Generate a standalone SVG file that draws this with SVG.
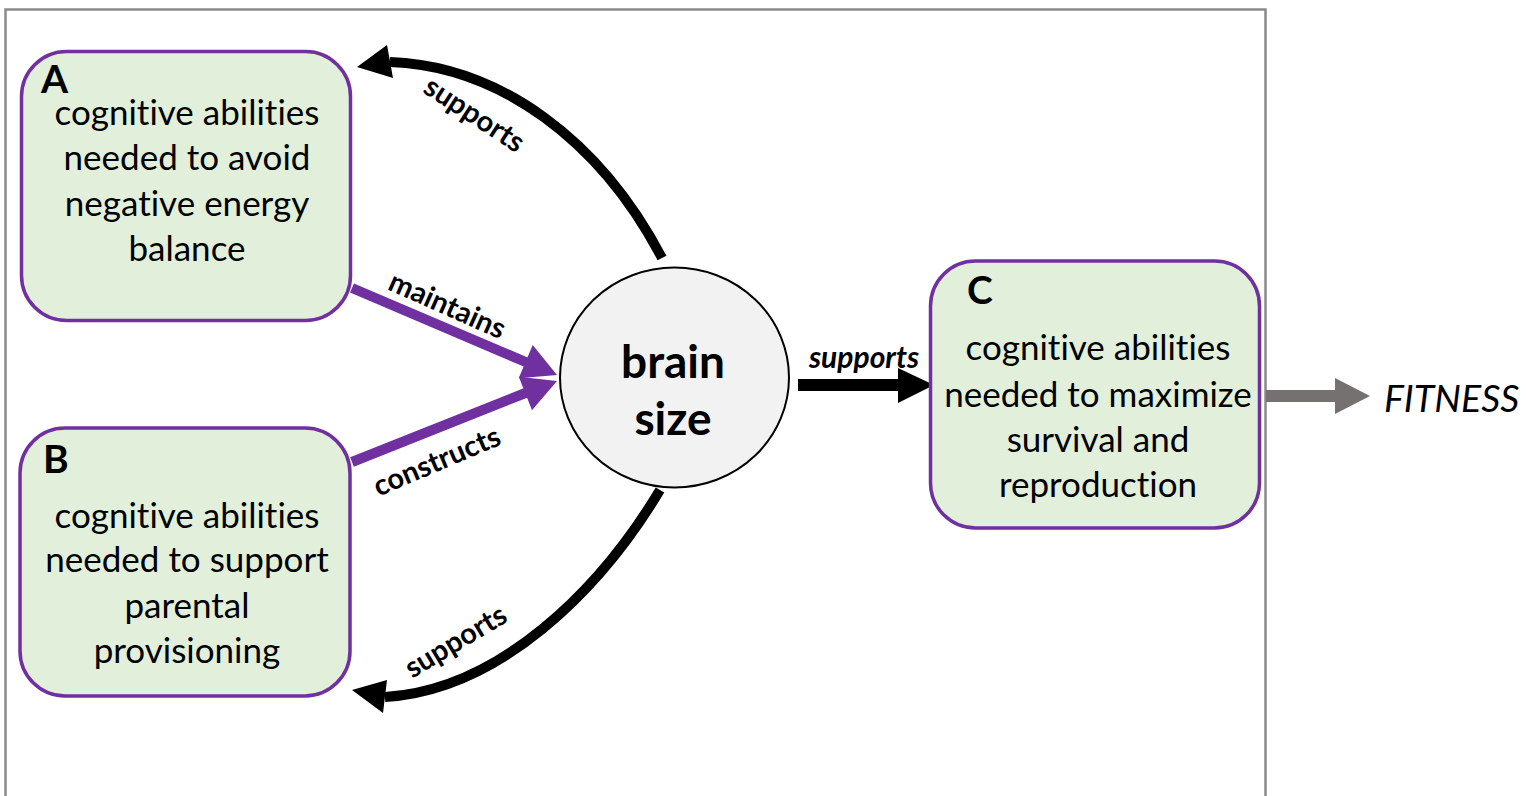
<svg xmlns="http://www.w3.org/2000/svg" width="1526" height="796" viewBox="0 0 1526 796">
<style>
text{font-family:Lato,"Open Sans",sans-serif;font-variant-ligatures:none;fill:#000}
.frame{fill:none;stroke:#8a8a8a;stroke-width:2.5}
.box{fill:#E2EFDA;stroke:#7030A0;stroke-width:3.5}
.body{font-size:35px;text-anchor:middle}
.letter{font-size:39px;font-weight:bold}
.brain{font-size:46px;font-weight:bold;text-anchor:middle}
.lbl{font-size:29px;font-weight:bold;text-anchor:middle}
.lbli{font-size:30px;font-weight:bold;font-style:italic;text-anchor:middle}
.fit{font-size:37.5px;font-style:italic}
.blk{fill:none;stroke:#000;stroke-width:10}
.blkh{fill:#000}
.pur{fill:none;stroke:#7030A0;stroke-width:10}
.purh{fill:#7030A0}
.gry{fill:none;stroke:#767171;stroke-width:12}
.gryh{fill:#767171}
</style>
<rect width="1526" height="796" fill="#fff"/>
<rect class="frame" x="5.5" y="9.5" width="1260" height="800"/>

<g id="connectors">
  <path class="blk" d="M 662 258 C 600 140, 500 66, 390 62"/>
  <polygon class="blkh" points="357,67 387,45 393,78"/>
  <path class="blk" d="M 660 490 C 600 590, 500 690, 385 697"/>
  <polygon class="blkh" points="352,690 387,680 383,713"/>
  <line class="pur" x1="352" y1="288" x2="528" y2="363"/>
  <polygon class="purh" points="557,375 532.7,345.1 518.7,378.3"/>
  <line class="pur" x1="352" y1="462" x2="528" y2="392"/>
  <polygon class="purh" points="557,381 518.8,376.8 532,410.2"/>
  <line x1="798" y1="385" x2="900" y2="385" stroke="#000" stroke-width="12"/>
  <polygon class="blkh" points="898,368 934,385 898,403"/>
  <line class="gry" x1="1266" y1="396" x2="1337" y2="396"/>
  <polygon class="gryh" points="1335,378 1370,396 1335,414"/>
  <text class="lbl" transform="translate(474,115) rotate(33)" y="9">supports</text>
  <text class="lbl" transform="translate(447,306) rotate(24)" y="9">maintains</text>
  <text class="lbl" transform="translate(437,462) rotate(-23)" y="9">constructs</text>
  <text class="lbl" transform="translate(456,642) rotate(-31)" y="9">supports</text>
  <text class="lbli" x="864" y="368">supports</text>
</g>

<g id="nodeA">
  <rect class="box" x="21.5" y="51.5" width="329" height="269" rx="45"/>
  <text class="letter" x="41" y="93">A</text>
  <text class="body" x="187" y="125">cognitive abilities</text>
  <text class="body" x="187" y="170">needed to avoid</text>
  <text class="body" x="187" y="216">negative energy</text>
  <text class="body" x="187" y="261">balance</text>
</g>

<g id="nodeB">
  <rect class="box" x="20" y="428" width="330" height="268" rx="45"/>
  <text class="letter" x="43" y="473">B</text>
  <text class="body" x="187" y="528">cognitive abilities</text>
  <text class="body" x="187" y="572">needed to support</text>
  <text class="body" x="187" y="618">parental</text>
  <text class="body" x="187" y="663">provisioning</text>
</g>

<g id="nodeBrain">
  <ellipse cx="674.5" cy="377.5" rx="114.5" ry="110" fill="#F2F2F2" stroke="#000" stroke-width="2"/>
  <text class="brain" x="673" y="378">brain</text>
  <text class="brain" x="673" y="435">size</text>
</g>

<g id="nodeC">
  <rect class="box" x="930.5" y="261" width="329" height="267" rx="45"/>
  <text class="letter" x="967" y="304">C</text>
  <text class="body" x="1098" y="360">cognitive abilities</text>
  <text class="body" x="1098" y="407">needed to maximize</text>
  <text class="body" x="1098" y="452">survival and</text>
  <text class="body" x="1098" y="497">reproduction</text>
</g>

<g id="nodeFitness">
  <text class="fit" x="1384" y="412">FITNESS</text>
</g>
</svg>
